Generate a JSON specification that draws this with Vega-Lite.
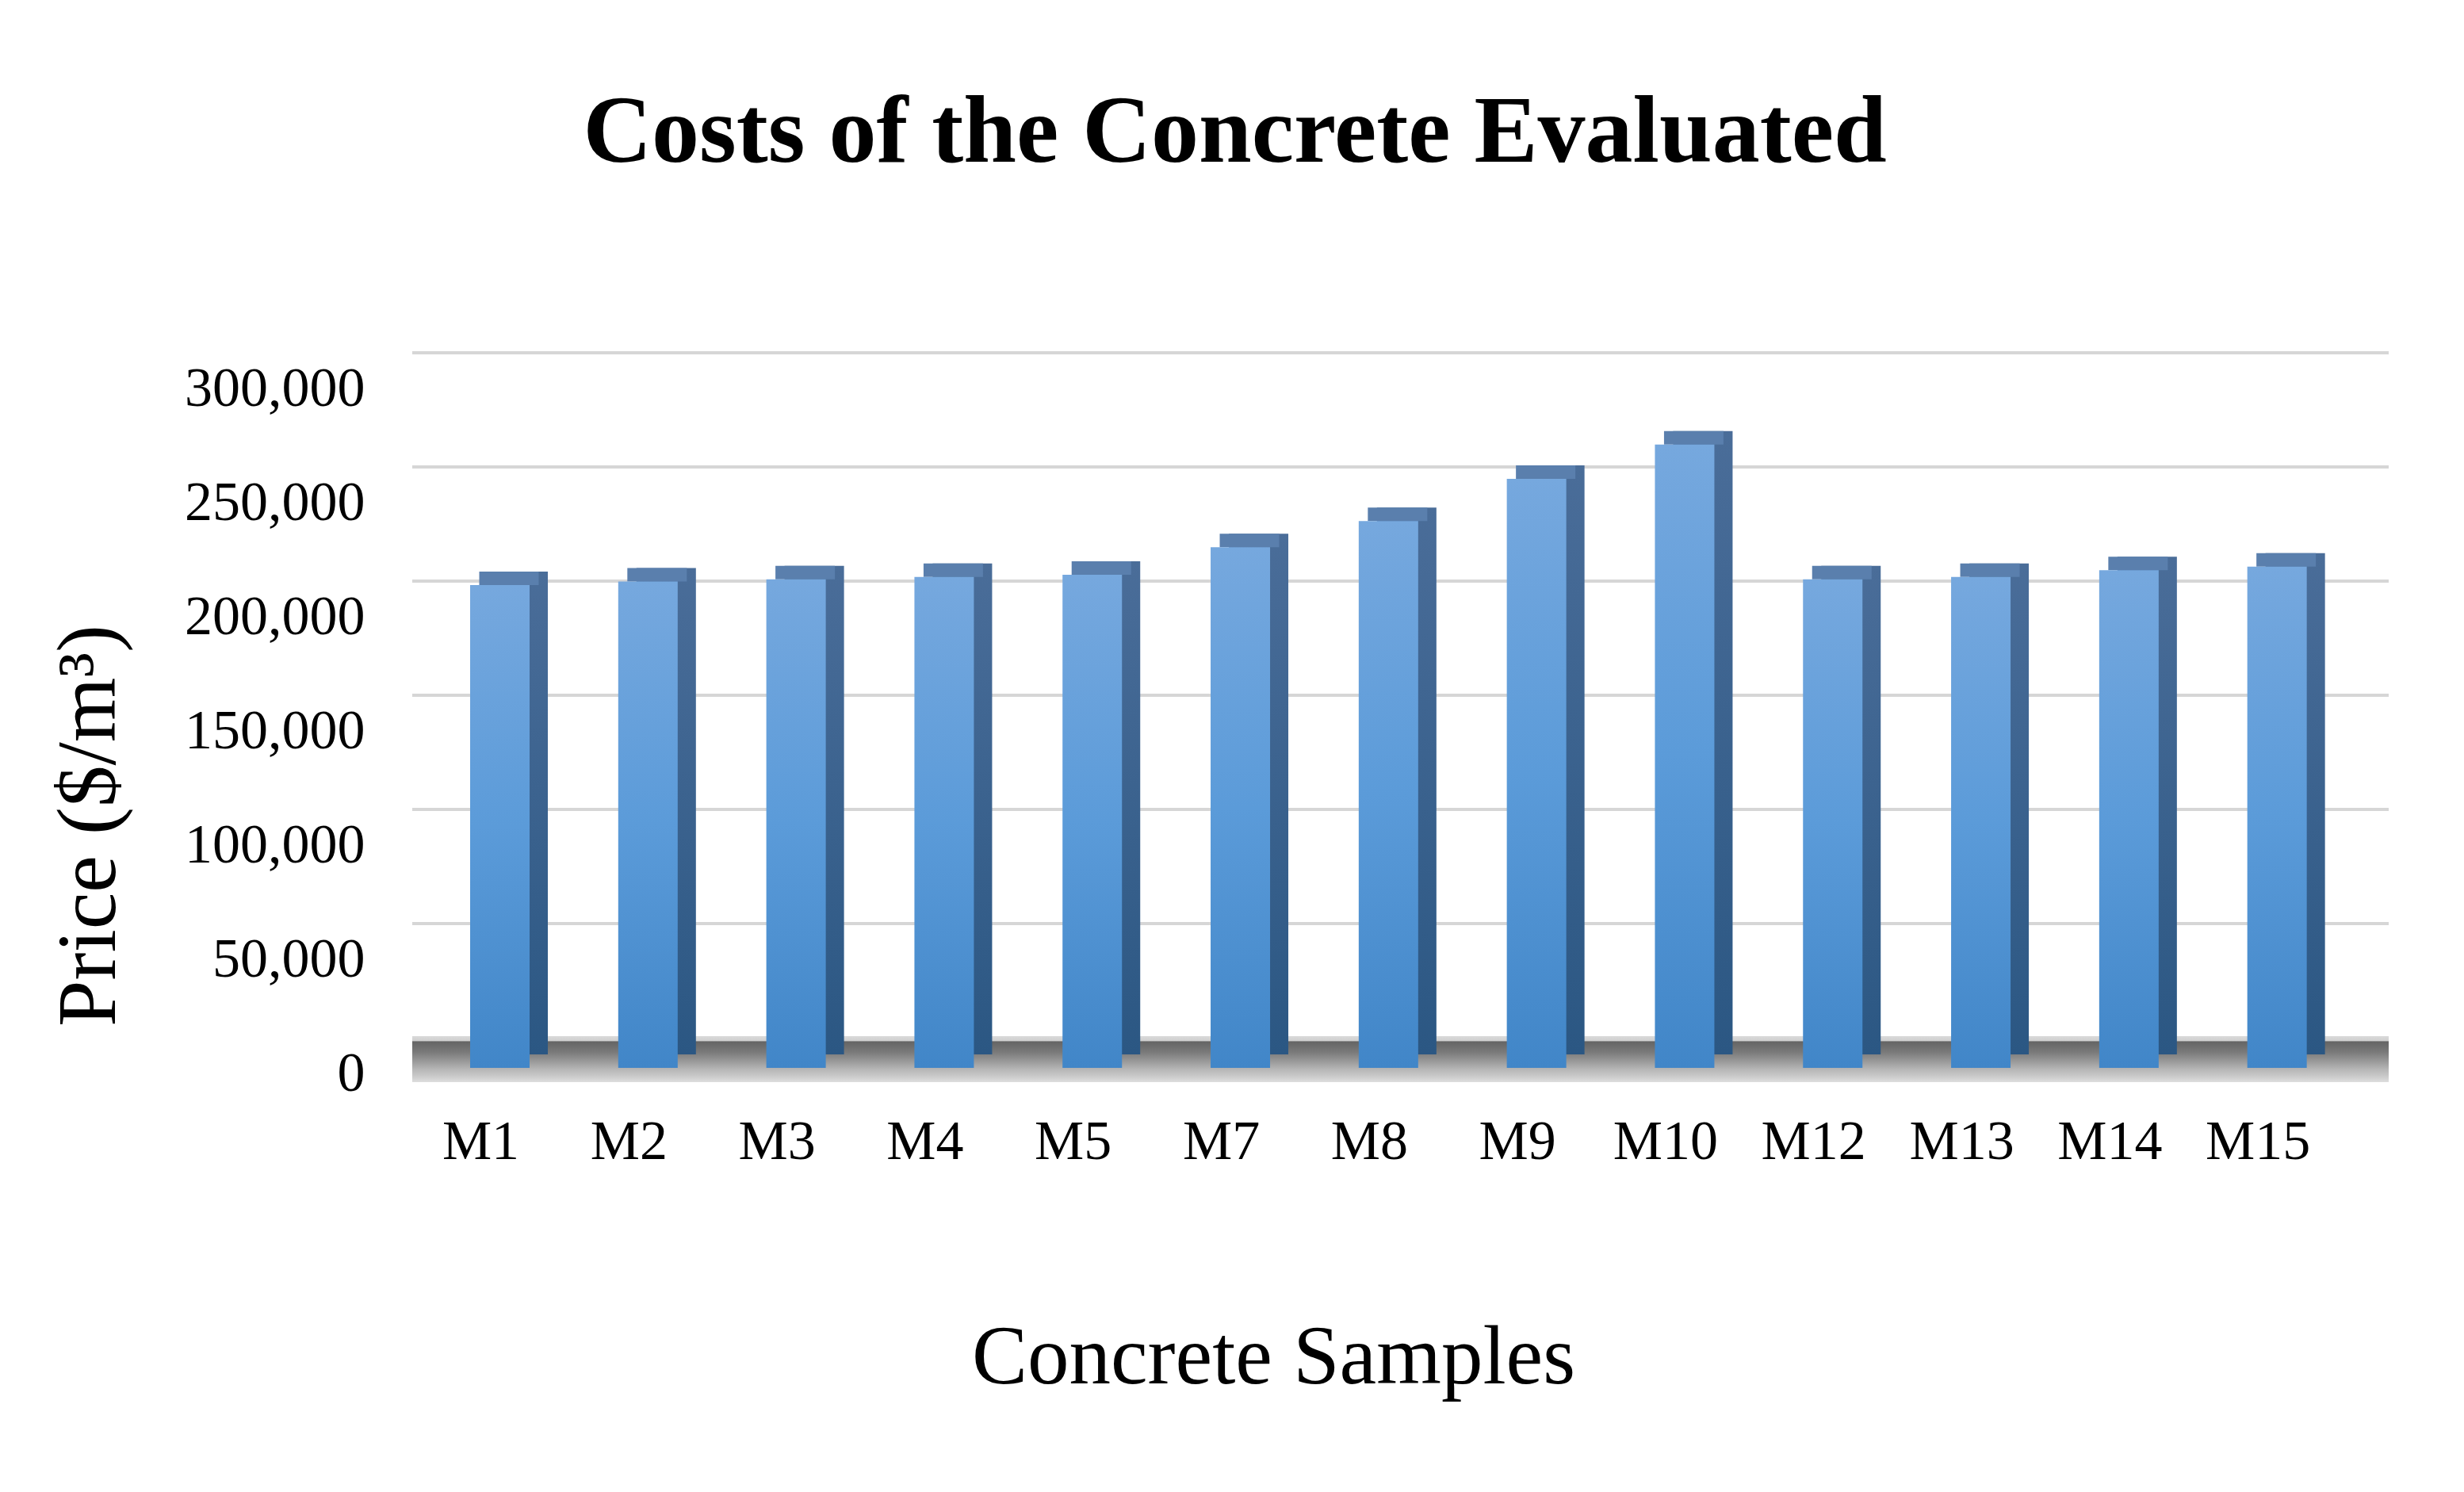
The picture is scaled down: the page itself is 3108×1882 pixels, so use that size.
{
  "$schema": "https://vega.github.io/schema/vega-lite/v6.json",
  "width": 2493,
  "height": 864,
  "autosize": {"type": "none"},
  "padding": {"left": 520, "top": 483, "right": 95, "bottom": 535},
  "background": "white",
  "config": {"view": {"stroke": null}},
  "title": {
    "text": "Costs of the Concrete Evaluated",
    "font": "Liberation Serif",
    "fontSize": 120,
    "fontWeight": "bold",
    "color": "#000000",
    "anchor": "middle",
    "frame": "group",
    "baseline": "alphabetic",
    "dx": -209,
    "offset": 119
  },
  "data": {
    "values": [
      {"sample": "M1", "price": 211500},
      {"sample": "M2", "price": 213000},
      {"sample": "M3", "price": 214000},
      {"sample": "M4", "price": 215000},
      {"sample": "M5", "price": 216000},
      {"sample": "M7", "price": 228000},
      {"sample": "M8", "price": 239500},
      {"sample": "M9", "price": 258000},
      {"sample": "M10", "price": 273000},
      {"sample": "M12", "price": 214000},
      {"sample": "M13", "price": 215000},
      {"sample": "M14", "price": 218000},
      {"sample": "M15", "price": 219500}
    ]
  },
  "encoding": {
    "x": {
      "field": "sample",
      "type": "nominal",
      "sort": null,
      "scale": {"paddingInner": 0.5985, "paddingOuter": 0.472, "align": 0.414},
      "axis": {
        "title": "Concrete Samples",
        "labelAngle": 0,
        "labelFont": "Liberation Serif",
        "labelFontSize": 70,
        "labelColor": "#000000",
        "labelBaseline": "alphabetic",
        "labelPadding": 114,
        "labelOffset": -24,
        "labelLimit": 0,
        "ticks": false,
        "tickSize": 0,
        "domain": false,
        "grid": false,
        "titleFont": "Liberation Serif",
        "titleFontSize": 105,
        "titleFontWeight": "normal",
        "titleColor": "#000000",
        "titleX": 1086,
        "titleY": 397,
        "titleAlign": "center",
        "titleBaseline": "alphabetic"
      }
    }
  },
  "layer": [
    {
      "data": {"values": [{"g": 50000}, {"g": 100000}, {"g": 150000}, {"g": 200000}, {"g": 250000}, {"g": 300000}]},
      "mark": {"type": "rule", "color": "#d6d6d6", "strokeWidth": 4, "yOffset": -38},
      "encoding": {
        "x": null,
        "y": {"field": "g", "type": "quantitative", "scale": {"domain": [0, 300000], "nice": false}}
      }
    },
    {
      "data": {"values": [{"floor": 0}]},
      "mark": {
        "type": "rect",
        "yOffset": -40,
        "y2Offset": 18,
        "color": {
          "gradient": "linear",
          "x1": 0, "y1": 0, "x2": 0, "y2": 1,
          "stops": [
            {"offset": 0, "color": "#dadada"},
            {"offset": 0.1, "color": "#cfcfcf"},
            {"offset": 0.12, "color": "#646464"},
            {"offset": 0.35, "color": "#7a7a7a"},
            {"offset": 0.6, "color": "#a2a2a2"},
            {"offset": 0.72, "color": "#b6b6b6"},
            {"offset": 0.86, "color": "#c8c8c8"},
            {"offset": 1, "color": "#dedede"}
          ]
        }
      },
      "encoding": {
        "x": null,
        "y": {"field": "floor", "type": "quantitative"},
        "y2": {"field": "floor"}
      }
    },
    {
      "mark": {
        "type": "bar",
        "xOffset": 23,
        "yOffset": -17,
        "y2Offset": -17,
        "color": {
          "gradient": "linear",
          "x1": 0, "y1": 0, "x2": 0, "y2": 1,
          "stops": [
            {"offset": 0, "color": "#4a6d99"},
            {"offset": 1, "color": "#2b5783"}
          ]
        }
      },
      "encoding": {
        "y": {
          "field": "price",
          "type": "quantitative",
          "scale": {"domain": [0, 300000], "nice": false},
          "axis": {
            "values": [0, 50000, 100000, 150000, 200000, 250000, 300000],
            "format": ",d",
            "title": "Price ($/m³)",
            "labelFont": "Liberation Serif",
            "labelFontSize": 70,
            "labelColor": "#000000",
            "labelPadding": 60,
            "labelOffset": 7,
            "labelLimit": 0,
            "ticks": false,
            "tickSize": 0,
            "domain": false,
            "grid": false,
            "titleFont": "Liberation Serif",
            "titleFontSize": 105,
            "titleFontWeight": "normal",
            "titleColor": "#000000",
            "titleAngle": -90,
            "titleX": -376,
            "titleY": 558,
            "titleAlign": "center",
            "titleBaseline": "alphabetic"
          }
        },
        "y2": {"datum": 0}
      }
    },
    {
      "mark": {"type": "bar", "xOffset": 11.5, "yOffset": -17, "y2Offset": 0, "color": "#5a7fad"},
      "encoding": {
        "y": {"field": "price", "type": "quantitative"},
        "y2": {"field": "price"}
      }
    },
    {
      "mark": {
        "type": "bar",
        "color": {
          "gradient": "linear",
          "x1": 0, "y1": 0, "x2": 0, "y2": 1,
          "stops": [
            {"offset": 0, "color": "#76a8de"},
            {"offset": 0.5, "color": "#5b9bd9"},
            {"offset": 1, "color": "#4186c8"}
          ]
        }
      },
      "encoding": {
        "y": {"field": "price", "type": "quantitative"},
        "y2": {"datum": 0}
      }
    }
  ]
}
